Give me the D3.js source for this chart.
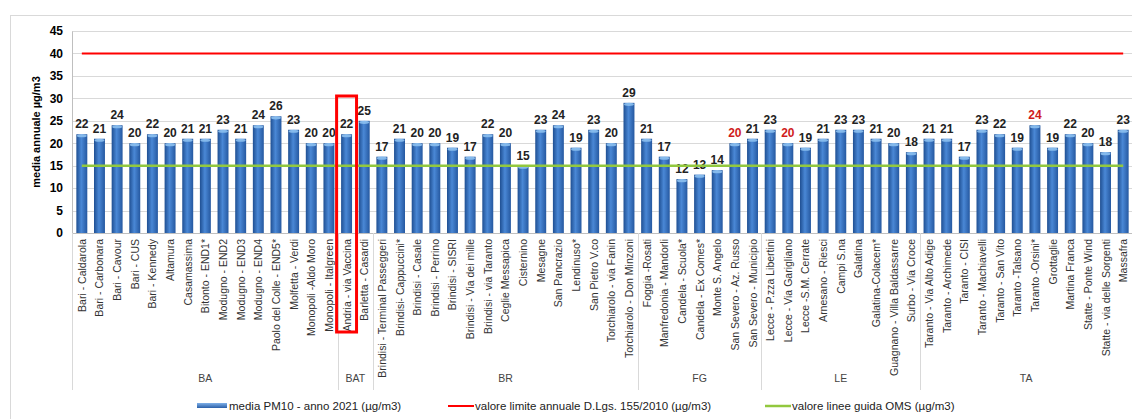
<!DOCTYPE html>
<html><head><meta charset="utf-8">
<script src="https://cdn.jsdelivr.net/npm/d3@7"></script>
<style>
body{margin:0;background:#fff;}
svg{display:block;font-family:"Liberation Sans Narrow","Arial Narrow","Liberation Sans",sans-serif;}
</style></head>
<body><svg id="c" width="1132" height="419"></svg>
<script>
const stations = ["Bari - Caldarola","Bari - Carbonara","Bari -  Cavour","Bari - CUS","Bari -  Kennedy","Altamura","Casamassima","Bitonto - END1*","Modugno - END2","Modugno - END3","Modugno - END4","Paolo del Colle - END5*","Molfetta - Verdi","Monopoli -Aldo Moro","Monopoli - Italgreen",
"Andria - via Vaccina","Barletta - Casardi",
"Brindisi - Terminal Passeggeri","Brindisi- Cappuccini*","Brindisi - Casale","Brindisi - Perrino","Brindisi - SISRI","Brindisi - Via dei mille","Brindisi - via Taranto","Ceglie Messapica","Cisternino","Mesagne","San Pancrazio","Lendinuso*","San Pietro V.co","Torchiarolo - via Fanin","Torchiarolo - Don Minzoni",
"Foggia -Rosati","Manfredonia - Mandorli","Candela - Scuola*","Candela - Ex Comes*","Monte S. Angelo","San Severo - Az. Russo","San Severo - Municipio",
"Lecce - P.zza Libertini","Lecce - Via Garigliano","Lecce -S.M. Cerrate","Arnesano - Riesci","Campi S.na","Galatina","Galatina-Colacem*","Guagnano - Villa Baldassarre","Surbo - Via Croce",
"Taranto - Via Alto Adige","Taranto -  Archimede","Taranto -  CISI","Taranto -  Machiavelli","Taranto - San Vito","Taranto -Talsano","Taranto -Orsini*","Grottaglie","Martina Franca","Statte - Ponte Wind","Statte - via delle Sorgenti","Massafra"];
const provinces = ["BA","BA","BA","BA","BA","BA","BA","BA","BA","BA","BA","BA","BA","BA","BA",
"BAT","BAT",
"BR","BR","BR","BR","BR","BR","BR","BR","BR","BR","BR","BR","BR","BR","BR",
"FG","FG","FG","FG","FG","FG","FG",
"LE","LE","LE","LE","LE","LE","LE","LE","LE",
"TA","TA","TA","TA","TA","TA","TA","TA","TA","TA","TA","TA"];
const pm10 = [22,21,24,20,22,20,21,21,23,21,24,26,23,20,20,
22,25,
17,21,20,20,19,17,22,20,15,23,24,19,23,20,29,
21,17,12,13,14,20,21,
23,20,19,21,23,23,21,20,18,
21,21,17,23,22,19,24,19,22,20,18,23];
const limitValue = 40;
const whoValue = 15;
const redLabelStations = ["San Severo - Az. Russo","Lecce - Via Garigliano","Taranto -Orsini*"];
const highlighted = "Andria - via Vaccina";
const yTicks = [0,5,10,15,20,25,30,35,40,45];
const legendLabels = ["media PM10 - anno 2021 (µg/m3)","valore limite annuale D.Lgs. 155/2010 (µg/m3)","valore linee guida OMS (µg/m3)"];
const yTitle = "media annuale µg/m3";

const svg = d3.select("#c");
const x = d3.scaleBand().domain(stations).range([73,1132]).paddingInner(0.38).paddingOuter(0.19);
const y = d3.scaleLinear().domain([0,45]).range([233,31]);

// border
svg.append("rect").attr("x",10.5).attr("y",15.5).attr("width",1140).attr("height",420)
  .attr("fill","none").attr("stroke","#d9d9d9");

const defs = svg.append("defs");
const g = defs.append("linearGradient").attr("id","bar").attr("x1","0").attr("x2","1").attr("y1","0").attr("y2","0");
g.append("stop").attr("offset","0").attr("stop-color","#1f4f92");
g.append("stop").attr("offset","0.45").attr("stop-color","#4a88d6");
g.append("stop").attr("offset","1").attr("stop-color","#2558a0");
const gl = defs.append("linearGradient").attr("id","leg").attr("x1","0").attr("x2","0").attr("y1","0").attr("y2","1");
gl.append("stop").attr("offset","0").attr("stop-color","#7fb0e8");
gl.append("stop").attr("offset","1").attr("stop-color","#2a5fa8");

// gridlines
svg.append("g").selectAll("line").data(yTicks.filter(d=>d>0)).join("line")
  .attr("x1",72).attr("x2",1132).attr("y1",d=>Math.round(y(d))+0.5).attr("y2",d=>Math.round(y(d))+0.5)
  .attr("stroke","#d9d9d9");

// y axis
const yAxis = svg.append("g").attr("transform","translate(72,0)")
  .call(d3.axisLeft(y).tickValues(yTicks).tickSize(0).tickPadding(9));
yAxis.select(".domain").attr("stroke","#bfbfbf");
yAxis.selectAll("text").attr("font-size","12px").attr("font-weight","bold").attr("fill","#000")
  .attr("font-family","Liberation Sans, Arial, sans-serif");

svg.append("text").attr("transform","translate(40,132) rotate(-90)").attr("text-anchor","middle")
  .attr("font-size","11px").attr("font-weight","bold").attr("font-family","Liberation Sans, Arial, sans-serif")
  .text(yTitle);

// bars
const bw = x.bandwidth();
const bars = svg.append("g").selectAll("g").data(stations).join("g");
bars.append("rect").attr("x",d=>x(d)).attr("y",(d,i)=>y(pm10[i])).attr("width",bw)
  .attr("height",(d,i)=>y(0)-y(pm10[i])).attr("fill","url(#bar)");
bars.append("ellipse").attr("cx",d=>x(d)+bw/2).attr("cy",(d,i)=>y(pm10[i])+1.5)
  .attr("rx",bw/2-0.5).attr("ry",1.6).attr("fill","#8cc0f0").attr("opacity",0.9);

// x axis baseline
svg.append("line").attr("x1",72).attr("x2",1132).attr("y1",233.5).attr("y2",233.5).attr("stroke","#bfbfbf");

// value labels
svg.append("g").selectAll("text").data(stations).join("text")
  .attr("x",d=>x(d)+bw/2).attr("y",(d,i)=>y(pm10[i])-6)
  .attr("text-anchor","middle").attr("font-size","12px").attr("font-weight","bold")
  .attr("font-family","Liberation Sans, Arial, sans-serif")
  .attr("fill",d=>redLabelStations.includes(d)?"#d01c1c":"#222")
  .text((d,i)=>pm10[i]);

// lines
const xc = d=>x(d)+bw/2;
const line = d3.line().x(d=>xc(d[0])).y(d=>y(d[1]));
svg.append("path").attr("d",line(stations.map(s=>[s,limitValue]))).attr("stroke","#ff0000").attr("stroke-width",2).attr("fill","none");
svg.append("path").attr("d",line(stations.map(s=>[s,whoValue]))).attr("stroke","#92c83e").attr("stroke-width",2.5).attr("fill","none");

// category labels
svg.append("g").selectAll("text").data(stations).join("text")
  .attr("transform",d=>`translate(${xc(d)+4},239) rotate(-90)`)
  .attr("text-anchor","end").attr("font-size","10.5px").attr("fill","#333")
  .text(d=>d);

// group separators and labels
const groups = Array.from(new Set(provinces));
const bounds = groups.map(p=>{
  const idx = provinces.map((v,i)=>v===p?i:-1).filter(i=>i>=0);
  const step = x.step();
  const left = x(stations[idx[0]]) - step*x.paddingInner()/2;
  const right = x(stations[idx[idx.length-1]]) + bw + step*x.paddingInner()/2;
  return {p,left,right};
});
const seps = [72].concat(bounds.slice(0,-1).map(b=>b.right));
svg.append("g").selectAll("line").data(seps).join("line")
  .attr("x1",d=>Math.round(d)+0.5).attr("x2",d=>Math.round(d)+0.5).attr("y1",233).attr("y2",390)
  .attr("stroke","#d9d9d9");
svg.append("g").selectAll("text").data(bounds).join("text")
  .attr("x",d=>(d.left+d.right)/2).attr("y",382).attr("text-anchor","middle")
  .attr("font-size","10.5px").attr("fill","#444").text(d=>d.p);

// highlight box
const hx = x(highlighted);
svg.append("rect").attr("x",hx-4.5).attr("y",96).attr("width",bw+9).attr("height",236)
  .attr("fill","none").attr("stroke","#ff0000").attr("stroke-width",3);

// legend
const lg = svg.append("g").attr("font-size","11.5px").attr("fill","#222");
lg.append("rect").attr("x",197).attr("y",403).attr("width",30).attr("height",5).attr("fill","url(#leg)");
lg.append("text").attr("x",229).attr("y",410).text(legendLabels[0]);
lg.append("line").attr("x1",448).attr("x2",474).attr("y1",406).attr("y2",406).attr("stroke","#ff0000").attr("stroke-width",2);
lg.append("text").attr("x",475).attr("y",410).text(legendLabels[1]);
lg.append("line").attr("x1",765).attr("x2",791).attr("y1",406).attr("y2",406).attr("stroke","#92c83e").attr("stroke-width",2.5);
lg.append("text").attr("x",792).attr("y",410).text(legendLabels[2]);
</script></body></html>
